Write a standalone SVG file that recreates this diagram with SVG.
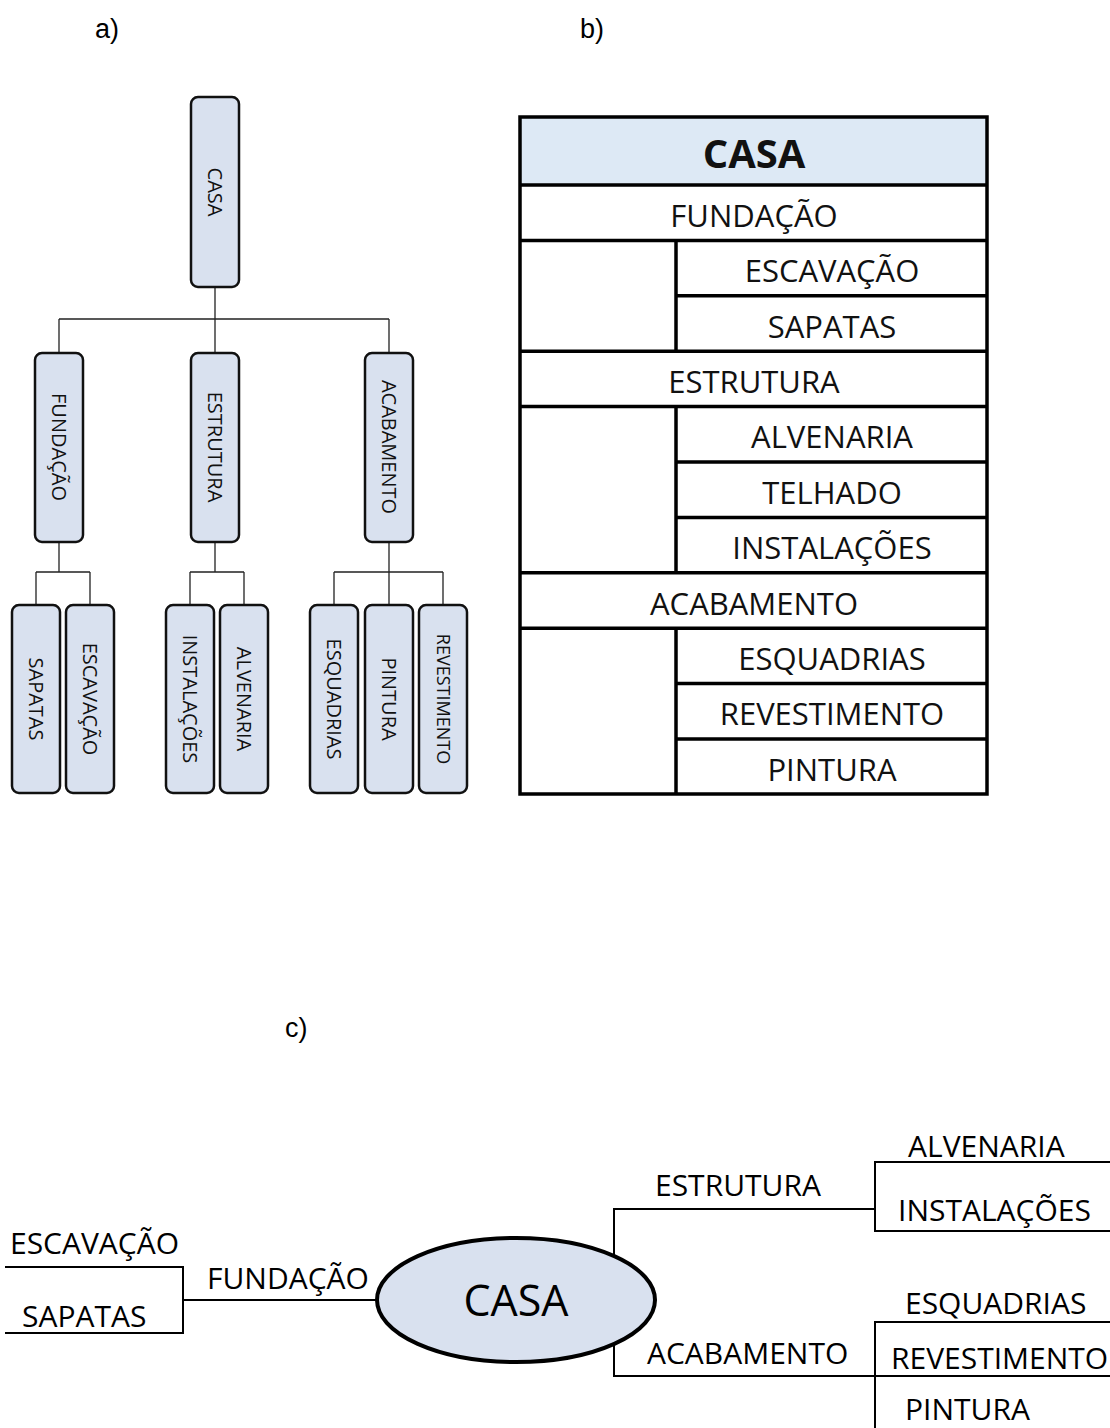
<svg xmlns="http://www.w3.org/2000/svg" width="1110" height="1428" viewBox="0 0 1110 1428">
<style>
.lbl{font-family:"Liberation Sans",Arial,sans-serif;font-size:27px;fill:#000}
.box{fill:#d9e1ef;stroke:#111;stroke-width:2.5}
.vt{font-family:"Open Sans","DejaVu Sans",sans-serif;font-size:20px;fill:#111;text-anchor:middle}
.con{fill:none;stroke:#222;stroke-width:1.3}
.tb{fill:none;stroke:#000;stroke-width:3.5}
.tt{font-family:"Open Sans","DejaVu Sans",sans-serif;font-size:31px;fill:#111;text-anchor:middle}
.ct{font-family:"Open Sans","DejaVu Sans",sans-serif;font-size:30px;fill:#000}
.cl{fill:none;stroke:#000;stroke-width:2}
</style>
<rect width="1110" height="1428" fill="#fff"/>
<text class="lbl" x="95" y="38">a)</text>
<text class="lbl" x="580" y="38">b)</text>
<text class="lbl" x="285" y="1037">c)</text>

<!-- a) connectors -->
<g id="a-connectors" class="con">
<path d="M215 287V319M59 319H389M59 319V353M215 319V353M389 319V353"/>
<path d="M59 542V572M36 572H90M36 572V605M90 572V605"/>
<path d="M215 542V572M190 572H244M190 572V605M244 572V605"/>
<path d="M389 542V605M334 572H443M334 572V605M443 572V605"/>
</g>
<g id="a-casa"><rect class="box" x="191" y="97" width="48" height="190" rx="7"/><text class="vt" transform="translate(215,192) rotate(90)" y="7">CASA</text></g>
<g id="a-fundacao"><rect class="box" x="35" y="353" width="48" height="189" rx="7"/><text class="vt" transform="translate(59,447) rotate(90)" y="7">FUNDAÇÃO</text></g>
<g id="a-estrutura"><rect class="box" x="191" y="353" width="48" height="189" rx="7"/><text class="vt" transform="translate(215,447) rotate(90)" y="7">ESTRUTURA</text></g>
<g id="a-acabamento"><rect class="box" x="365" y="353" width="48" height="189" rx="7"/><text class="vt" transform="translate(389,447) rotate(90)" y="7">ACABAMENTO</text></g>
<g id="a-sapatas"><rect class="box" x="12" y="605" width="48" height="188" rx="7"/><text class="vt" transform="translate(36,699) rotate(90)" y="7">SAPATAS</text></g>
<g id="a-escavacao"><rect class="box" x="66" y="605" width="48" height="188" rx="7"/><text class="vt" transform="translate(90,699) rotate(90)" y="7">ESCAVAÇÃO</text></g>
<g id="a-instalacoes"><rect class="box" x="166" y="605" width="48" height="188" rx="7"/><text class="vt" transform="translate(190,699) rotate(90)" y="7">INSTALAÇÕES</text></g>
<g id="a-alvenaria"><rect class="box" x="220" y="605" width="48" height="188" rx="7"/><text class="vt" transform="translate(244,699) rotate(90)" y="7">ALVENARIA</text></g>
<g id="a-esquadrias"><rect class="box" x="310" y="605" width="48" height="188" rx="7"/><text class="vt" transform="translate(334,699) rotate(90)" y="7">ESQUADRIAS</text></g>
<g id="a-pintura"><rect class="box" x="365" y="605" width="48" height="188" rx="7"/><text class="vt" transform="translate(389,699) rotate(90)" y="7">PINTURA</text></g>
<g id="a-revestimento"><rect class="box" x="419" y="605" width="48" height="188" rx="7"/><text class="vt" transform="translate(443,699) rotate(90)" y="6" style="font-size:18px">REVESTIMENTO</text></g>

<!-- b) table -->
<g id="b-table">
<rect x="520" y="117" width="467" height="68" fill="#dde9f5"/>
<rect class="tb" x="520" y="117" width="467" height="677"/>
<path class="tb" d="M520 185H987M520 240.4H987M676 295.8H987M520 351.2H987M520 406.6H987M676 462H987M676 517.4H987M520 572.8H987M520 628.2H987M676 683.6H987M676 739H987"/>
<path class="tb" d="M676 240.4V351.2M676 406.6V572.8M676 628.2V794"/>
<text class="tt" x="754" y="168" style="font-weight:bold;font-size:40px">CASA</text>
<text class="tt" x="754" y="227">FUNDAÇÃO</text>
<text class="tt" x="832" y="282">ESCAVAÇÃO</text>
<text class="tt" x="832" y="338">SAPATAS</text>
<text class="tt" x="754" y="393">ESTRUTURA</text>
<text class="tt" x="832" y="448">ALVENARIA</text>
<text class="tt" x="832" y="504">TELHADO</text>
<text class="tt" x="832" y="559">INSTALAÇÕES</text>
<text class="tt" x="754" y="615">ACABAMENTO</text>
<text class="tt" x="832" y="670">ESQUADRIAS</text>
<text class="tt" x="832" y="725">REVESTIMENTO</text>
<text class="tt" x="832" y="781">PINTURA</text>
</g>

<!-- c) mind map -->
<g id="c-connectors" class="cl">
<path d="M5 1267H183V1333H5"/>
<path d="M183 1300H378"/>
<path d="M614 1300V1209H875"/>
<path d="M1110 1162H875V1231H1110"/>
<path d="M614 1300V1376H875"/>
<path d="M1110 1322H875V1428"/>
<path d="M875 1376H1110"/>
</g>
<g id="c-casa"><ellipse cx="516" cy="1300" rx="139" ry="62" fill="#d9e1ef" stroke="#000" stroke-width="4"/><text class="ct" x="516" y="1316" text-anchor="middle" style="font-size:43px">CASA</text></g>
<g id="c-fundacao"><text class="ct" x="207" y="1289">FUNDAÇÃO</text></g>
<g id="c-escavacao"><text class="ct" x="10" y="1254">ESCAVAÇÃO</text></g>
<g id="c-sapatas"><text class="ct" x="22" y="1327">SAPATAS</text></g>
<g id="c-estrutura"><text class="ct" x="655" y="1196">ESTRUTURA</text></g>
<g id="c-alvenaria"><text class="ct" x="908" y="1157">ALVENARIA</text></g>
<g id="c-instalacoes"><text class="ct" x="898" y="1221">INSTALAÇÕES</text></g>
<g id="c-acabamento"><text class="ct" x="647" y="1364">ACABAMENTO</text></g>
<g id="c-esquadrias"><text class="ct" x="905" y="1314">ESQUADRIAS</text></g>
<g id="c-revestimento"><text class="ct" x="891" y="1369">REVESTIMENTO</text></g>
<g id="c-pintura"><text class="ct" x="905" y="1420">PINTURA</text></g>
</svg>
